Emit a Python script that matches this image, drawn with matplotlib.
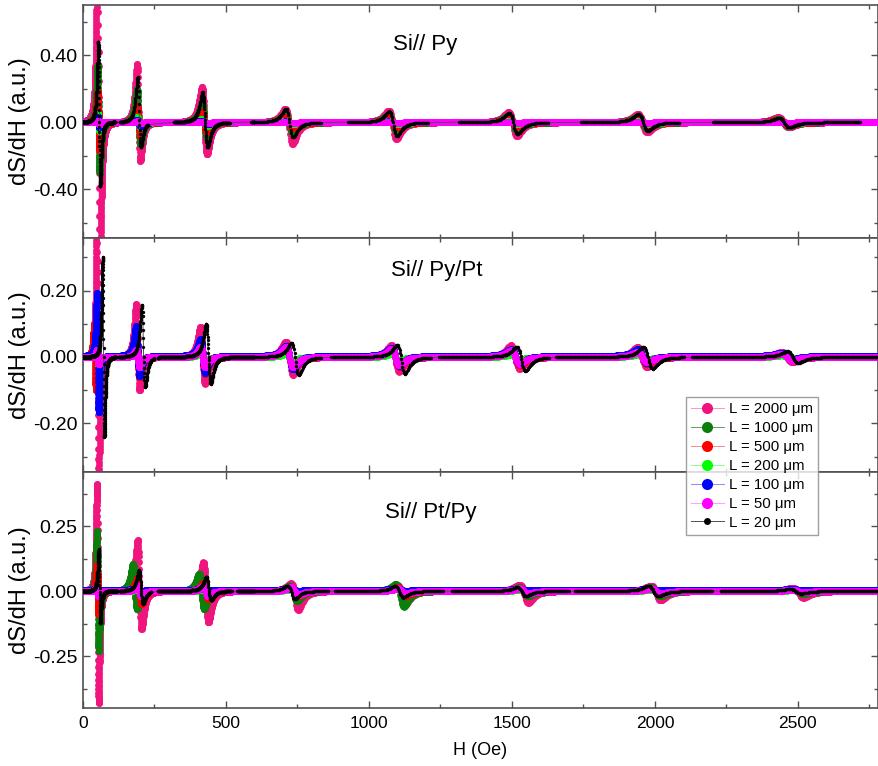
import numpy as np
import matplotlib.pyplot as plt
from matplotlib.ticker import MultipleLocator

plt.rcParams['font.family'] = ['Liberation Sans', 'DejaVu Sans']

# strip lengths (um), legend order
lengths = [2000, 1000, 500, 200, 100, 50, 20]
marker_colors = ['#F0147F', '#0A7F0A', '#FF0000', '#00FF00', '#0000FF', '#FF00FF', '#000000']
line_colors = ['#F49AC6', '#5FA05F', '#FF8A8A', '#8CFF8C', '#8C8CFF', '#FF9CFF', '#505050']

# ---- Si// Py : resonance fields (Oe), widths (Oe), positive / negative lobe heights
py_h0 = [55, 195, 425, 720, 1082, 1503, 1957, 2450]
py_w = [6, 10, 15, 22, 24, 26, 28, 32]
py_shift = [0, 0, 0, 0, 0, 0, 2]
py_pos = [[1.2, 0.35, 0.21, 0.08, 0.07, 0.06, 0.05, 0.03],
          [0.34, 0.20, 0.11, 0.05, 0.045, 0.04, 0.035, 0.02],
          [0.18, 0.10, 0.06, 0.03, 0.03, 0.025, 0.02, 0.015],
          [0.05, 0.03, 0.02, 0.01, 0.01, 0.008, 0.008, 0.005],
          [0.03, 0.015, 0.01, 0.005, 0.005, 0.004, 0.004, 0.003],
          [0.01, 0.005, 0.004, 0.003, 0.003, 0.002, 0.002, 0.002],
          [0.48, 0.27, 0.18, 0.08, 0.065, 0.055, 0.05, 0.025]]
py_neg = [[1.2, 0.23, 0.19, 0.13, 0.10, 0.08, 0.06, 0.03],
          [0.30, 0.13, 0.09, 0.06, 0.05, 0.045, 0.035, 0.02],
          [0.17, 0.08, 0.06, 0.035, 0.03, 0.025, 0.02, 0.015],
          [0.05, 0.03, 0.02, 0.01, 0.01, 0.008, 0.008, 0.005],
          [0.03, 0.02, 0.012, 0.006, 0.005, 0.004, 0.004, 0.003],
          [0.01, 0.005, 0.004, 0.003, 0.003, 0.002, 0.002, 0.002],
          [0.38, 0.15, 0.15, 0.09, 0.08, 0.07, 0.05, 0.03]]
py_offset = [0, 0, 0, 0, 0, 0, 0]
py_black_windows = [(0, 112), (129, 227), (318, 513), (589, 834), (928, 1208),
                    (1315, 1629), (1742, 2087), (2203, 2718)]

# ---- Si// Py/Pt
pypt_h0 = [52, 192, 419, 722, 1092, 1512, 1956, 2462]
pypt_w = [5, 10, 14, 22, 24, 26, 28, 32]
pypt_shift = [0, 0, [-10, 0, 0, 0, 0, 0, 0, 0], 0, 0, 0, 20]
pypt_pos = [[0.45, 0.16, 0.09, 0.046, 0.036, 0.035, 0.03, 0.015],
            [0.08, 0.06, 0.04, 0.03, 0.025, 0.02, 0.02, 0.01],
            [0.10, 0.05, 0.04, 0.03, 0.025, 0.02, 0.02, 0.01],
            [0.03, 0.02, 0.015, 0.01, 0.01, 0.008, 0.008, 0.005],
            [0.19, 0.09, 0.05, 0.03, 0.025, 0.02, 0.02, 0.01],
            [0.02, 0.02, 0.03, 0.03, 0.025, 0.02, 0.015, 0.01],
            [0.30, 0.157, 0.10, 0.043, 0.036, 0.031, 0.03, 0.017]]
pypt_neg = [[0.45, 0.10, 0.08, 0.054, 0.044, 0.035, 0.03, 0.015],
            [0.10, 0.05, 0.04, 0.03, 0.025, 0.02, 0.02, 0.01],
            [0.10, 0.06, 0.05, 0.035, 0.03, 0.025, 0.02, 0.01],
            [0.03, 0.02, 0.015, 0.01, 0.01, 0.008, 0.008, 0.005],
            [0.17, 0.06, 0.05, 0.04, 0.03, 0.025, 0.02, 0.01],
            [0.02, 0.03, 0.03, 0.03, 0.025, 0.02, 0.015, 0.01],
            [0.24, 0.09, 0.08, 0.054, 0.05, 0.042, 0.035, 0.018]]
pypt_offset = [0, 0, 0, 0, 0.003, 0, 0]
pypt_black_windows = [(0, 115), (125, 250), (262, 834), (869, 1218), (1245, 1630),
                      (1654, 2104), (2130, 2780)]

# ---- Si// Pt/Py
ptpy_h0 = [52, 198, 430, 740, 1114, 1542, 2003, 2500]
ptpy_w = [5, 12, 15, 22, 24, 26, 30, 34]
ptpy_shift = [0, [0, -16, -15, -4, -6, 0, 0, 0], 0, 0, 0, 0,
              [6, 5, 10, -12, -8, -8, -8, -8]]
ptpy_pos = [[0.41, 0.195, 0.11, 0.03, 0.02, 0.025, 0.02, 0.012],
            [0.23, 0.105, 0.067, 0.02, 0.027, 0.015, 0.015, 0.008],
            [0.10, 0.05, 0.03, 0.015, 0.015, 0.01, 0.01, 0.005],
            [0.01, 0.01, 0.01, 0.008, 0.01, 0.005, 0.005, 0.003],
            [0.01, 0.008, 0.005, 0.005, 0.005, 0.003, 0.003, 0.002],
            [0.02, 0.02, 0.02, 0.015, 0.01, 0.01, 0.01, 0.005],
            [0.16, 0.08, 0.054, 0.02, 0.02, 0.015, 0.02, 0.008]]
ptpy_neg = [[0.43, 0.145, 0.12, 0.073, 0.05, 0.045, 0.035, 0.025],
            [0.23, 0.07, 0.068, 0.04, 0.06, 0.02, 0.02, 0.01],
            [0.09, 0.05, 0.03, 0.02, 0.02, 0.01, 0.01, 0.005],
            [0.01, 0.01, 0.01, 0.008, 0.01, 0.005, 0.005, 0.003],
            [0.01, 0.008, 0.005, 0.005, 0.005, 0.003, 0.003, 0.002],
            [0.02, 0.02, 0.02, 0.015, 0.01, 0.01, 0.01, 0.005],
            [0.125, 0.05, 0.036, 0.03, 0.025, 0.02, 0.02, 0.01]]
ptpy_offset = [0, 0, 0, 0, 0.005, 0, 0]
ptpy_black_windows = [(0, 120), (128, 240), (262, 520), (540, 860), (880, 1260),
                      (1290, 1700), (1720, 2200), (2230, 2780)]

titles = ['Si// Py', 'Si// Py/Pt', 'Si// Pt/Py']
ylims = [(-0.69, 0.70), (-0.346, 0.358), (-0.45, 0.458)]
major_steps = [0.4, 0.2, 0.25]
title_pos = [(0.43, 0.83), (0.445, 0.86), (0.438, 0.83)]


def field_grid(windows):
    parts = []
    for lo, hi in windows:
        for a, b, st in [(0, 120, 0.15), (120, 600, 0.6), (600, 3000, 2.0)]:
            s, e = max(lo, a), min(hi, b)
            if e > s:
                parts.append(np.arange(s, e, st))
    return np.concatenate(parts)


def fmr_signal(h, h0s, ws, pos, neg, shift, offset):
    shifts = np.broadcast_to(np.asarray(shift, dtype=float), (len(h0s),))
    y = np.full_like(h, offset, dtype=float)
    for h0, w, ap, an, sh in zip(h0s, ws, pos, neg, shifts):
        u = (h - h0 - sh) / w
        base = -u / (1 + u ** 2) ** 2 / 0.3248
        y += np.where(u < 0, ap * base, an * base)
    return y


panels = [
    (py_h0, py_w, py_shift, py_pos, py_neg, py_offset, py_black_windows),
    (pypt_h0, pypt_w, pypt_shift, pypt_pos, pypt_neg, pypt_offset, pypt_black_windows),
    (ptpy_h0, ptpy_w, ptpy_shift, ptpy_pos, ptpy_neg, ptpy_offset, ptpy_black_windows),
]

fig = plt.figure(figsize=(8.79, 7.66), dpi=100)
ax_rects = [[0.0944, 0.6893, 0.9044, 0.3042],
            [0.0944, 0.3838, 0.9044, 0.3055],
            [0.0944, 0.0757, 0.9044, 0.3081]]
frame_col = '#505050'

handles = []
for p, (h0s, ws, shifts, pos, neg, offs, bwin) in enumerate(panels):
    ax = fig.add_axes(ax_rects[p])
    for i, L in enumerate(lengths):
        if L == 20:
            h = field_grid(bwin)
            ms = 2.4
        else:
            h = field_grid([(0, 2780)])
            ms = 4.9
        y = fmr_signal(h, h0s, ws, pos[i], neg[i], shifts[i], offs[i])
        ln, = ax.plot(h, y, '-', color=line_colors[i], lw=0.7, marker='o', ms=ms,
                      mfc=marker_colors[i], mec=marker_colors[i], mew=0,
                      label='L = %d \u03bcm' % L, zorder=2 + i)
        if p == 0:
            handles.append(ln)

    ax.set_xlim(0, 2780)
    ax.set_ylim(*ylims[p])
    ax.xaxis.set_major_locator(MultipleLocator(500))
    ax.xaxis.set_minor_locator(MultipleLocator(250))
    ax.yaxis.set_major_locator(MultipleLocator(major_steps[p]))
    ax.yaxis.set_minor_locator(MultipleLocator(major_steps[p] / 2))
    ax.yaxis.set_major_formatter(plt.FuncFormatter(lambda v, _: '{:.2f}'.format(v)))
    ax.tick_params(which='both', direction='in', top=True, right=True,
                   color=frame_col)
    ax.tick_params(axis='y', labelsize=14, pad=4)
    ax.tick_params(axis='x', labelsize=12.5, pad=6)
    ax.tick_params(which='major', length=5, width=1)
    ax.tick_params(which='minor', length=3, width=1)
    for s in ax.spines.values():
        s.set_color(frame_col)
        s.set_linewidth(1.2)
    ax.set_ylabel('dS/dH (a.u.)', fontsize=17)
    ax.yaxis.set_label_coords(-0.065, 0.5)
    ax.text(title_pos[p][0], title_pos[p][1], titles[p], transform=ax.transAxes,
            ha='center', va='center', fontsize=16)
    if p < 2:
        ax.tick_params(labelbottom=False)
    else:
        ax.set_xlabel('H (Oe)', fontsize=13, labelpad=8)

leg = fig.legend(handles=handles, loc='upper left', bbox_to_anchor=(0.780, 0.482),
                 fontsize=10.8, frameon=True, fancybox=False, markerscale=1.5,
                 handlelength=2.2, labelspacing=0.33, borderpad=0.35,
                 handletextpad=0.35, borderaxespad=0)
leg.get_frame().set_edgecolor('#888888')
leg.get_frame().set_linewidth(1.0)
for lh in leg.get_lines():
    lh.set_markersize(8)
leg.get_lines()[-1].set_markersize(5)
leg.set_zorder(20)

fig.savefig('out.png', dpi=100)
